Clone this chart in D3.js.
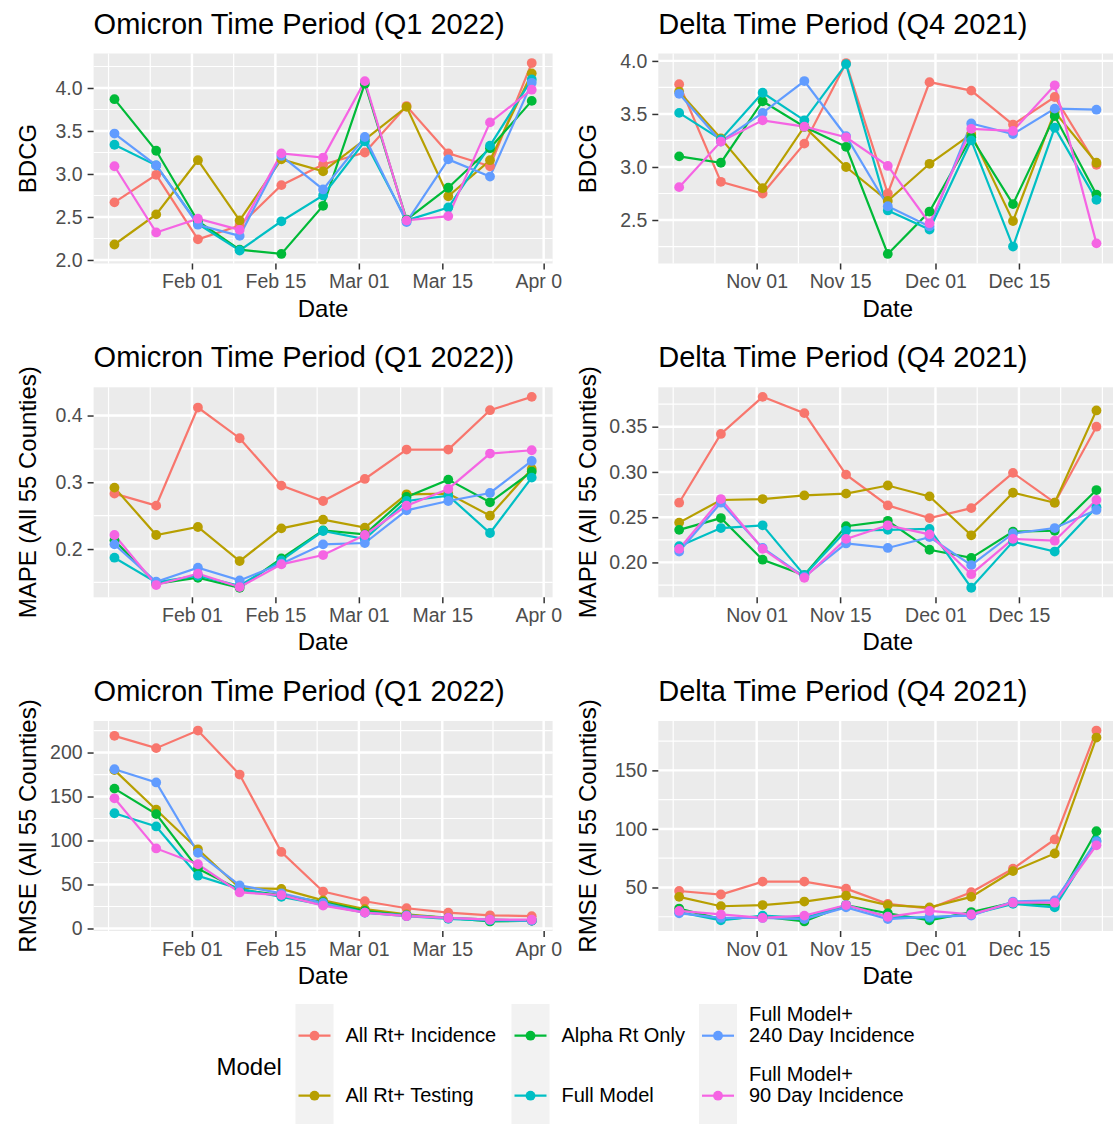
<!DOCTYPE html>
<html>
<head>
<meta charset="utf-8">
<script src="https://cdn.jsdelivr.net/npm/d3@7"></script>
<style>
  body { margin: 0; background: #fff; }
  text { font-family: "Liberation Sans", Arial, sans-serif; }
</style>
</head>
<body>
<div id="chart"></div>
<script>
// Data
// =================================
var models = ["All Rt+ Incidence", "All Rt+ Testing", "Alpha Rt Only", "Full Model",
  "Full Model+ 240 Day Incidence", "Full Model+ 90 Day Incidence"];
var legendLabels = [["All Rt+ Incidence"], ["All Rt+ Testing"], ["Alpha Rt Only"], ["Full Model"],
  ["Full Model+", "240 Day Incidence"], ["Full Model+", "90 Day Incidence"]];
var colors = ["#F8766D", "#B79F00", "#00BA38", "#00BFC4", "#619CFF", "#F564E3"];

var omicronDates = ["2022-01-19", "2022-01-26", "2022-02-02", "2022-02-09", "2022-02-16", "2022-02-23",
  "2022-03-02", "2022-03-09", "2022-03-16", "2022-03-23", "2022-03-30"];
var deltaDates = ["2021-10-19", "2021-10-26", "2021-11-02", "2021-11-09", "2021-11-16", "2021-11-23",
  "2021-11-30", "2021-12-07", "2021-12-14", "2021-12-21", "2021-12-28"];

var omicronXTicks = ["2022-02-01", "2022-02-15", "2022-03-01", "2022-03-15", "2022-04-01"];
var deltaXTicks = ["2021-11-01", "2021-11-15", "2021-12-01", "2021-12-15"];

// one row per model, same order as `models`
var omicronBDCG = [
  [2.67, 2.99, 2.24, 2.40, 2.87, 3.11, 3.25, 3.79, 3.24, 3.09, 4.29],
  [2.18, 2.53, 3.16, 2.46, 3.17, 3.03, 3.40, 3.78, 2.74, 3.16, 4.17],
  [3.87, 3.27, 2.45, 2.12, 2.07, 2.63, 4.05, 2.47, 2.84, 3.30, 3.85],
  [3.34, 3.10, 2.42, 2.11, 2.45, 2.75, 3.38, 2.46, 2.61, 3.33, 4.10],
  [3.47, 3.10, 2.41, 2.28, 3.21, 2.82, 3.43, 2.44, 3.17, 2.97, 4.06],
  [3.09, 2.32, 2.48, 2.35, 3.24, 3.19, 4.08, 2.46, 2.51, 3.60, 3.98]
];
var deltaBDCG = [
  [3.78, 2.86, 2.75, 3.22, 3.98, 2.75, 3.80, 3.72, 3.40, 3.66, 3.02],
  [3.71, 3.27, 2.80, 3.38, 3.00, 2.68, 3.03, 3.31, 2.49, 3.52, 3.04],
  [3.10, 3.04, 3.62, 3.38, 3.19, 2.18, 2.58, 3.28, 2.65, 3.48, 2.74],
  [3.51, 3.26, 3.70, 3.44, 3.97, 2.59, 2.41, 3.25, 2.25, 3.37, 2.69],
  [3.69, 3.24, 3.51, 3.81, 3.29, 2.63, 2.44, 3.41, 3.31, 3.55, 3.54],
  [2.81, 3.24, 3.44, 3.38, 3.28, 3.01, 2.47, 3.36, 3.34, 3.77, 2.28]
];
var omicronMAPE = [
  [0.283, 0.265, 0.412, 0.366, 0.295, 0.272, 0.305, 0.349, 0.349, 0.408, 0.428],
  [0.292, 0.221, 0.233, 0.182, 0.231, 0.244, 0.232, 0.282, 0.283, 0.250, 0.320],
  [0.213, 0.148, 0.157, 0.142, 0.186, 0.228, 0.222, 0.278, 0.304, 0.270, 0.316],
  [0.187, 0.150, 0.160, 0.145, 0.183, 0.227, 0.215, 0.272, 0.280, 0.224, 0.307],
  [0.207, 0.151, 0.172, 0.153, 0.178, 0.207, 0.209, 0.258, 0.272, 0.284, 0.332],
  [0.221, 0.146, 0.163, 0.143, 0.177, 0.191, 0.221, 0.265, 0.290, 0.343, 0.348]
];
var deltaMAPE = [
  [0.266, 0.342, 0.383, 0.365, 0.297, 0.263, 0.249, 0.260, 0.299, 0.266, 0.350],
  [0.244, 0.269, 0.270, 0.274, 0.276, 0.285, 0.273, 0.230, 0.277, 0.266, 0.368],
  [0.236, 0.249, 0.203, 0.186, 0.240, 0.246, 0.214, 0.205, 0.234, 0.235, 0.280],
  [0.218, 0.238, 0.241, 0.186, 0.235, 0.236, 0.237, 0.172, 0.223, 0.212, 0.261],
  [0.212, 0.266, 0.216, 0.184, 0.221, 0.216, 0.228, 0.197, 0.232, 0.238, 0.258],
  [0.215, 0.270, 0.215, 0.183, 0.226, 0.241, 0.231, 0.187, 0.226, 0.224, 0.269]
];
var omicronRMSE = [
  [219, 205, 225, 175, 87, 42, 31, 23, 18, 15, 14],
  [180, 135, 90, 46, 45, 32, 22, 16, 12, 10, 9],
  [159, 130, 68, 44, 38, 30, 20, 15, 12, 8, 9],
  [131, 116, 60, 45, 36, 27, 18, 14, 11, 9, 9],
  [181, 166, 86, 49, 40, 29, 18, 15, 12, 10, 9],
  [148, 91, 73, 41, 38, 26, 18, 14, 12, 10, 10]
];
var deltaRMSE = [
  [47, 44, 55, 55, 49, 36, 32, 46, 66, 91, 184],
  [42, 34, 35, 38, 43, 35, 33, 42, 64, 79, 178],
  [32, 23, 25, 21, 35, 28, 22, 29, 37, 35, 98],
  [29, 22, 26, 24, 35, 25, 24, 27, 36, 33, 90],
  [28, 24, 24, 23, 33, 23, 25, 26, 38, 39, 89],
  [30, 27, 24, 26, 35, 25, 30, 27, 37, 37, 86]
];

var bdcgTicksOmicron = [2.0, 2.5, 3.0, 3.5, 4.0];
var bdcgTicksDelta = [2.5, 3.0, 3.5, 4.0];
var mapeTicksOmicron = [0.2, 0.3, 0.4];
var mapeTicksDelta = [0.20, 0.25, 0.30, 0.35];
var rmseTicksOmicron = [0, 50, 100, 150, 200];
var rmseTicksDelta = [50, 100, 150];

// Layout
// =================================
var svgWidth = 1113;
var svgHeight = 1124;
var colLeft = [93.6, 658.3];
var yTitleX = [36, 595.5];
var rowTop = [53.5, 387.3, 721];
var panelW = 459;
var panelH = 210;

var parseDate = d3.utcParse("%Y-%m-%d");
var fmtDate = d3.utcFormat("%b %d");

var panels = [
  { col: 0, row: 0, title: "Omicron Time Period (Q1 2022)", ylab: "BDCG", dates: omicronDates, xTicks: omicronXTicks, values: omicronBDCG, yTicks: bdcgTicksOmicron, fmt: ".1f" },
  { col: 1, row: 0, title: "Delta Time Period (Q4 2021)", ylab: "BDCG", dates: deltaDates, xTicks: deltaXTicks, values: deltaBDCG, yTicks: bdcgTicksDelta, fmt: ".1f" },
  { col: 0, row: 1, title: "Omicron Time Period (Q1 2022))", ylab: "MAPE (All 55 Counties)", dates: omicronDates, xTicks: omicronXTicks, values: omicronMAPE, yTicks: mapeTicksOmicron, fmt: ".1f" },
  { col: 1, row: 1, title: "Delta Time Period (Q4 2021)", ylab: "MAPE (All 55 Counties)", dates: deltaDates, xTicks: deltaXTicks, values: deltaMAPE, yTicks: mapeTicksDelta, fmt: ".2f" },
  { col: 0, row: 2, title: "Omicron Time Period (Q1 2022)", ylab: "RMSE (All 55 Counties)", dates: omicronDates, xTicks: omicronXTicks, values: omicronRMSE, yTicks: rmseTicksOmicron, fmt: "d" },
  { col: 1, row: 2, title: "Delta Time Period (Q4 2021)", ylab: "RMSE (All 55 Counties)", dates: deltaDates, xTicks: deltaXTicks, values: deltaRMSE, yTicks: rmseTicksDelta, fmt: "d" }
];

var svg = d3.select("#chart")
  .append("svg")
  .attr("width", svgWidth)
  .attr("height", svgHeight)
  .style("display", "block");

svg.append("defs").append("clipPath")
  .attr("id", "clipLeft")
  .append("rect")
  .attr("x", 0).attr("y", 0)
  .attr("width", 563).attr("height", svgHeight);

// ggplot style minor breaks (midpoints, extended one step beyond the majors)
function minorBreaks(b, lim) {
  var bd = b[1] - b[0];
  var ext = b.slice();
  if (lim[0] < ext[0]) ext.unshift(ext[0] - bd);
  if (lim[1] > ext[ext.length - 1]) ext.push(ext[ext.length - 1] + bd);
  var out = [];
  for (var i = 0; i < ext.length - 1; i++) {
    out.push(ext[i], (ext[i] + ext[i + 1]) / 2);
  }
  out.push(ext[ext.length - 1]);
  return out.filter(function(v) { return v >= lim[0] && v <= lim[1]; });
}

function expand(ext) {
  var pad = (ext[1] - ext[0]) * 0.05;
  return [ext[0] - pad, ext[1] + pad];
}

panels.forEach(function(p) {
  var x0 = colLeft[p.col];
  var y0 = rowTop[p.row];
  var dates = p.dates.map(parseDate);
  var xTicks = p.xTicks.map(parseDate);

  var xExt = expand(d3.extent(dates).map(Number));
  var xScale = d3.scaleUtc()
    .domain([new Date(xExt[0]), new Date(xExt[1])])
    .range([0, panelW]);

  var yScale = d3.scaleLinear()
    .domain(expand(d3.extent(d3.merge(p.values))))
    .range([panelH, 0]);

  var outer = svg.append("g");
  if (p.col === 0) outer.attr("clip-path", "url(#clipLeft)");

  var g = outer.append("g")
    .attr("transform", `translate(${x0}, ${y0})`);

  // title
  g.append("text")
    .attr("x", 0)
    .attr("y", -20)
    .attr("font-size", "29px")
    .attr("fill", "#000")
    .text(p.title);

  // panel background
  g.append("rect")
    .attr("width", panelW)
    .attr("height", panelH)
    .attr("fill", "#EBEBEB");

  // minor grid
  var xMinor = minorBreaks(xTicks.map(Number), xExt);
  var yMinor = minorBreaks(p.yTicks, yScale.domain());
  g.selectAll(".xminor").data(xMinor).enter().append("line")
    .attr("x1", d => xScale(new Date(d))).attr("x2", d => xScale(new Date(d)))
    .attr("y1", 0).attr("y2", panelH)
    .attr("stroke", "#fff").attr("stroke-width", 1.2);
  g.selectAll(".yminor").data(yMinor).enter().append("line")
    .attr("x1", 0).attr("x2", panelW)
    .attr("y1", d => yScale(d)).attr("y2", d => yScale(d))
    .attr("stroke", "#fff").attr("stroke-width", 1.2);

  // major grid
  g.selectAll(".xmajor").data(xTicks).enter().append("line")
    .attr("x1", d => xScale(d)).attr("x2", d => xScale(d))
    .attr("y1", 0).attr("y2", panelH)
    .attr("stroke", "#fff").attr("stroke-width", 2.4);
  g.selectAll(".ymajor").data(p.yTicks).enter().append("line")
    .attr("x1", 0).attr("x2", panelW)
    .attr("y1", d => yScale(d)).attr("y2", d => yScale(d))
    .attr("stroke", "#fff").attr("stroke-width", 2.4);

  // axes
  var bottomAxis = d3.axisBottom(xScale)
    .tickValues(xTicks)
    .tickFormat(fmtDate)
    .tickSize(6)
    .tickPadding(5);
  var leftAxis = d3.axisLeft(yScale)
    .tickValues(p.yTicks)
    .tickFormat(d3.format(p.fmt))
    .tickSize(6)
    .tickPadding(5);

  var xa = g.append("g")
    .attr("transform", `translate(0, ${panelH})`)
    .call(bottomAxis);
  var ya = g.append("g").call(leftAxis);
  [xa, ya].forEach(function(a) {
    a.select(".domain").remove();
    a.selectAll(".tick line").attr("stroke", "#333").attr("stroke-width", 1.5);
    a.selectAll(".tick text")
      .attr("fill", "#4D4D4D")
      .attr("font-size", "19.5px")
      .attr("font-family", "Liberation Sans, Arial, sans-serif");
  });

  // axis titles
  g.append("text")
    .attr("x", panelW / 2)
    .attr("y", panelH + 53)
    .attr("text-anchor", "middle")
    .attr("font-size", "24px")
    .attr("fill", "#000")
    .text("Date");
  g.append("text")
    .attr("transform", "rotate(-90)")
    .attr("x", -panelH / 2)
    .attr("y", yTitleX[p.col] - x0)
    .attr("text-anchor", "middle")
    .attr("font-size", "24px")
    .attr("fill", "#000")
    .text(p.ylab);

  // lines then points
  var line = d3.line()
    .x((d, i) => xScale(dates[i]))
    .y(d => yScale(d));

  g.selectAll(".series").data(p.values).enter().append("path")
    .attr("d", d => line(d))
    .attr("fill", "none")
    .attr("stroke", (d, i) => colors[i])
    .attr("stroke-width", 2.2);

  p.values.forEach(function(series, k) {
    g.selectAll(".pt" + k).data(series).enter().append("circle")
      .attr("cx", (d, i) => xScale(dates[i]))
      .attr("cy", d => yScale(d))
      .attr("r", 4.9)
      .attr("fill", colors[k]);
  });
});

// Legend
// =================================
var legend = svg.append("g");
legend.append("text")
  .attr("x", 216.5)
  .attr("y", 1075)
  .attr("font-size", "24px")
  .attr("fill", "#000")
  .text("Model");

var keyX = [295.5, 511.5, 699];
var keyRowY = [1035.7, 1095.7];
var keyW = 38;

keyX.forEach(function(kx) {
  legend.append("rect")
    .attr("x", kx).attr("y", 1004)
    .attr("width", keyW).attr("height", 120)
    .attr("fill", "#F2F2F2");
});

models.forEach(function(m, i) {
  var col = Math.floor(i / 2);
  var row = i % 2;
  var kx = keyX[col];
  var ky = keyRowY[row];
  legend.append("line")
    .attr("x1", kx + 3).attr("x2", kx + keyW - 3)
    .attr("y1", ky).attr("y2", ky)
    .attr("stroke", colors[i]).attr("stroke-width", 2.2);
  legend.append("circle")
    .attr("cx", kx + keyW / 2).attr("cy", ky)
    .attr("r", 4.9)
    .attr("fill", colors[i]);
  var lines = legendLabels[i];
  lines.forEach(function(t, j) {
    legend.append("text")
      .attr("x", kx + keyW + 12)
      .attr("y", ky + 6.5 - (lines.length - 1 - j) * 21)
      .attr("font-size", "20px")
      .attr("fill", "#000")
      .text(t);
  });
});
</script>
</body>
</html>
